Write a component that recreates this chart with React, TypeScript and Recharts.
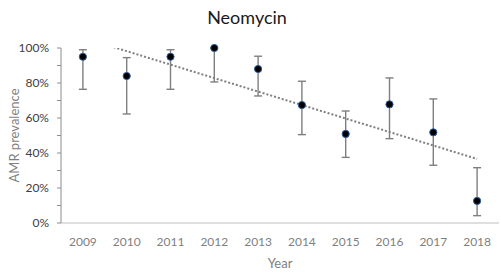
import React from 'react';
import { ComposedChart, Line, XAxis, YAxis, CartesianGrid, ErrorBar } from 'recharts';

const years = ['2009', '2010', '2011', '2012', '2013', '2014', '2015', '2016', '2017', '2018'];
const prevalence = [0.95, 0.84, 0.95, 1.0, 0.88, 0.674, 0.509, 0.678, 0.518, 0.126];
const lower = [0.764, 0.623, 0.764, 0.806, 0.726, 0.505, 0.375, 0.482, 0.33, 0.042];
const upper = [0.99, 0.945, 0.99, 1.0, 0.953, 0.81, 0.64, 0.829, 0.709, 0.316];
const trend = [1.059, 0.982, 0.905, 0.828, 0.751, 0.674, 0.597, 0.52, 0.443, 0.366];
const yTicks = [0, 0.1, 0.2, 0.3, 0.4, 0.5, 0.6, 0.7, 0.8, 0.9, 1.0];
const gridValues = [0.2, 0.4, 0.6, 0.8, 1.0];

const data = years.map((y, i) => ({
  year: y,
  value: prevalence[i],
  err: [prevalence[i] - lower[i], upper[i] - prevalence[i]],
  trend: trend[i],
}));

const FONT = 'Lato, "Open Sans", sans-serif';

const fmt = (v: number) => {
  const p = Math.round(v * 100);
  return p % 20 === 0 ? `${p}%` : '';
};

export default function App() {
  return (
    <div style={{ position: 'absolute', left: 0, top: 0, width: 501, height: 278, background: '#fff', fontFamily: FONT }}>
      <div
        style={{
          position: 'absolute',
          left: 0,
          width: 494,
          top: 6,
          textAlign: 'center',
          fontSize: 18,
          color: '#1a1a1a',
          fontFamily: FONT,
        }}
      >
        Neomycin
      </div>
      <ComposedChart width={501} height={278} data={data} margin={{ top: 48, right: 2, bottom: 0, left: 0 }}>
        <CartesianGrid horizontal vertical={false} horizontalValues={gridValues} stroke="#d9d9d9" strokeWidth={1} />
        <XAxis
          dataKey="year"
          scale="band"
          height={55}
          axisLine={{ stroke: '#bfbfbf' }}
          tickLine={false}
          tick={{ fill: '#7f7f7f', fontSize: 12, fontFamily: FONT }}
          tickMargin={8}
          label={{ value: 'Year', position: 'insideBottom', offset: 10, fill: '#7f7f7f', fontSize: 13, fontFamily: FONT }}
        />
        <YAxis
          yAxisId="main"
          width={61}
          domain={[0, 1]}
          ticks={yTicks}
          interval={0}
          tickFormatter={fmt}
          axisLine={{ stroke: '#8c8c8c' }}
          tickLine={{ stroke: '#8c8c8c' }}
          tickSize={4}
          tickMargin={8}
          tick={{ fill: '#404040', fontSize: 12, fontFamily: FONT }}
          label={{ value: 'AMR prevalence', angle: -90, position: 'center', dx: -16, fill: '#7f7f7f', fontSize: 13, fontFamily: FONT }}
        />
        <YAxis yAxisId="trend" hide domain={[0, 1]} allowDataOverflow />
        <Line
          yAxisId="trend"
          dataKey="trend"
          stroke="#7f7f7f"
          strokeWidth={2}
          strokeDasharray="2 2"
          dot={false}
          activeDot={false}
          isAnimationActive={false}
        />
        <Line
          yAxisId="main"
          dataKey="value"
          stroke="none"
          dot={{ r: 3.6, fill: '#000', stroke: '#2e5d9c', strokeWidth: 1 }}
          activeDot={false}
          isAnimationActive={false}
        >
          <ErrorBar dataKey="err" direction="y" width={4} stroke="#7f7f7f" strokeWidth={1.4} />
        </Line>
      </ComposedChart>
    </div>
  );
}
